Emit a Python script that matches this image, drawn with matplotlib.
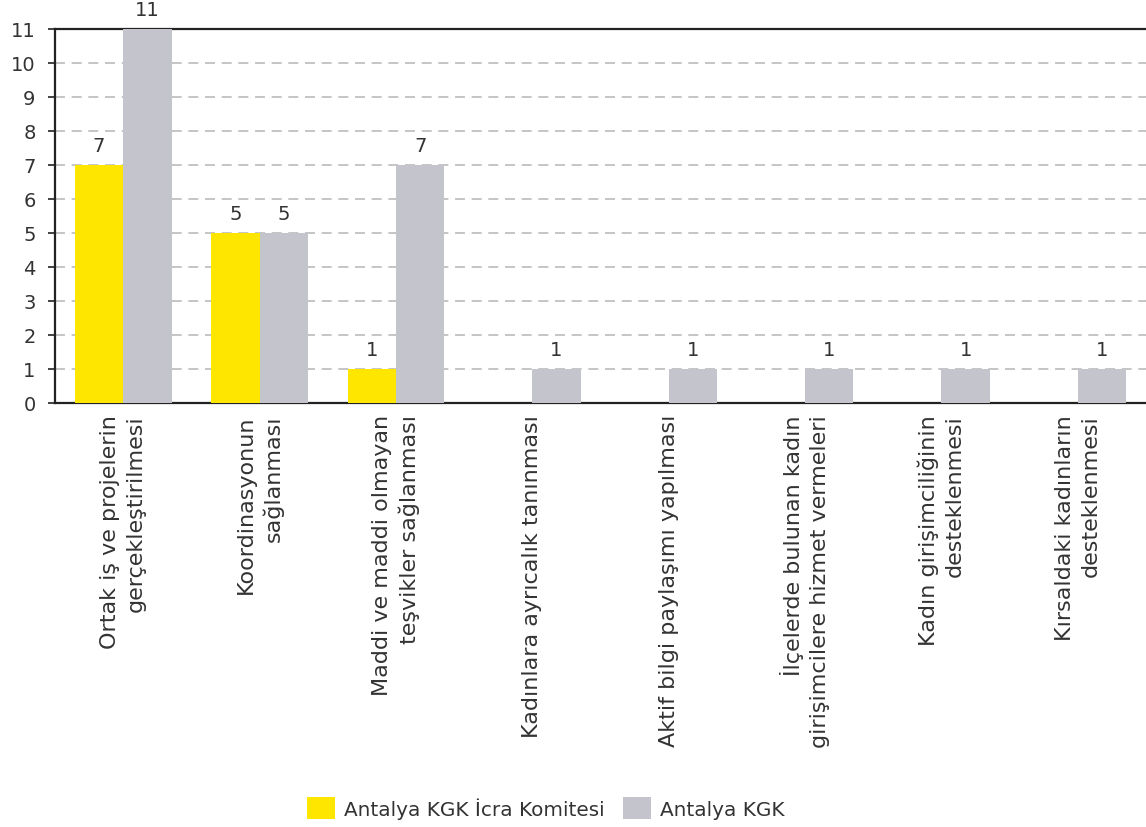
import numpy as np
import matplotlib
matplotlib.use("Agg")
from matplotlib import pyplot as plt

categories = [
    "Ortak iş ve projelerin\ngerçekleştirilmesi",
    "Koordinasyonun\nsağlanması",
    "Maddi ve maddi olmayan\nteşvikler sağlanması",
    "Kadınlara ayrıcalık tanınması",
    "Aktif bilgi paylaşımı yapılması",
    "İlçelerde bulunan kadın\ngirişimcilere hizmet vermeleri",
    "Kadın girişimciliğinin\ndesteklenmesi",
    "Kırsaldaki kadınların\ndesteklenmesi",
]
icra = [7, 5, 1, 0, 0, 0, 0, 0]
kgk = [11, 5, 7, 1, 1, 1, 1, 1]
series_names = ["Antalya KGK İcra Komitesi", "Antalya KGK"]
yticks = list(range(0, 12))

yellow = "#FFE600"
grey = "#C4C4CD"
txt = "#333333"

plt.rcParams['font.family'] = ['DejaVu Sans']

fig = plt.figure(figsize=(11.46, 8.28), dpi=100)
ax = fig.add_axes([55 / 1146, 1 - 404 / 828, 1 - 55 / 1146, (404 - 30) / 828])

x = np.arange(len(categories))
w = 0.355
b1 = ax.bar(x - w / 2, icra, w, color=yellow, label=series_names[0], zorder=3)
b2 = ax.bar(x + w / 2, kgk, w, color=grey, label=series_names[1], zorder=3)

# value labels, only for non-zero bars
for bars, vals in [(b1, icra), (b2, kgk)]:
    for r, v in zip(bars, vals):
        if v > 0:
            ax.text(r.get_x() + r.get_width() / 2, v + 0.3, str(v),
                    ha="center", va="bottom", fontsize=14, color=txt)

ax.set_xlim(-0.5, len(categories) - 0.5)
ax.set_ylim(0, 11)
ax.set_yticks(yticks)
ax.set_yticklabels([str(t) for t in yticks], fontsize=14, color=txt)
ax.set_xticks(x)
ax.set_xticklabels(categories, rotation=90, fontsize=16, color=txt,
                   ha="center", va="top", multialignment="right",
                   linespacing=1.35)
ax.tick_params(axis="x", length=0, pad=8)
ax.tick_params(axis="y", length=5, width=1.2, color="#222222", pad=9)
ax.yaxis.grid(True, linestyle=(0, (6, 4)), color="#BBBBBB", linewidth=1.2, zorder=0)

for s in ["left", "bottom", "top"]:
    ax.spines[s].set_color("#222222")
    ax.spines[s].set_linewidth(1.6)
ax.spines["right"].set_visible(False)

fig.legend(handles=[b1, b2], labels=series_names, loc="center",
           bbox_to_anchor=(546 / 1146, 1 - 809 / 828), ncol=2, frameon=False,
           fontsize=14.4, handlelength=1.4, handleheight=1.3,
           columnspacing=0.9, handletextpad=0.45, labelcolor=txt,
           borderpad=0, borderaxespad=0)

fig.savefig("out.png", dpi=100)
